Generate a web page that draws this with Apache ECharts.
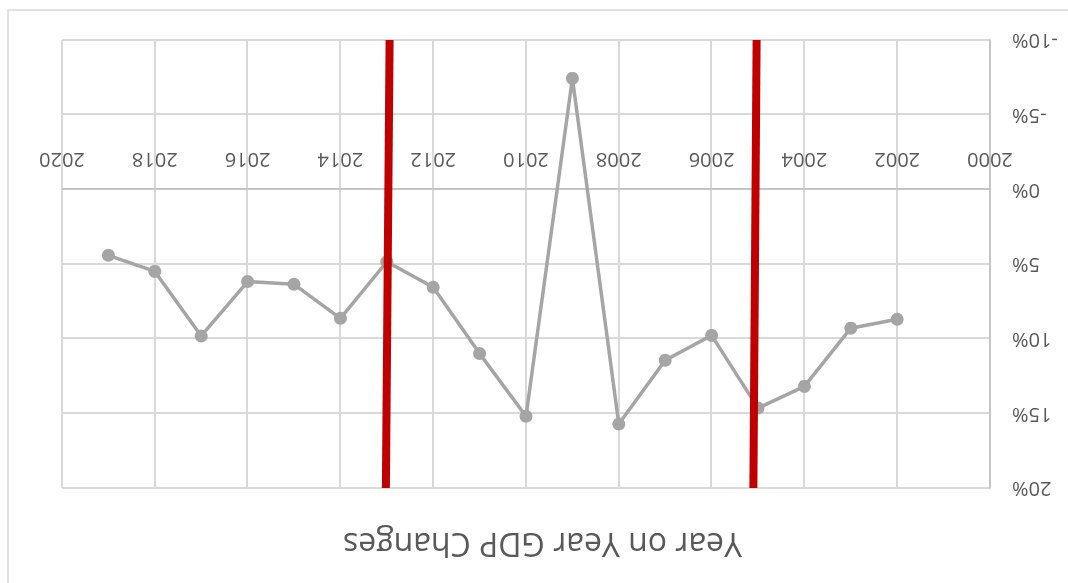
<!DOCTYPE html>
<html>
<head>
<meta charset="utf-8">
<script src="https://cdn.jsdelivr.net/npm/echarts@6/dist/echarts.min.js"></script>
<style>
html,body{margin:0;padding:0;background:#fff;overflow:hidden;}
#wrap{width:1068px;height:583px;transform:rotate(180deg);transform-origin:50% 50%;}
#chart{width:1068px;height:583px;}
</style>
</head>
<body>
<div id="wrap"><div id="chart"></div></div>
<script>
// Data read from the (upside-down) reference
const titleText = 'Year on Year GDP Changes';
const years = [2002, 2003, 2004, 2005, 2006, 2007, 2008, 2009, 2010, 2011, 2012, 2013, 2014, 2015, 2016, 2017, 2018, 2019];
const gdpChange = [8.7, 9.3, 13.2, 14.65, 9.78, 11.45, 15.72, -7.43, 15.2, 11.0, 6.56, 4.85, 8.64, 6.36, 6.18, 9.82, 5.5, 4.42];
const redLineA = [[2012.94, -10], [2013.02, 20]];
const redLineB = [[2005.03, -10], [2005.1, 20]];
const xTicks = { min: 2000, max: 2020, step: 2 };
const yTicks = { min: -10, max: 20, step: 5 };

const chart = echarts.init(document.getElementById('chart'), null, { renderer: 'canvas' });
const font = '"Open Sans", "Noto Sans", sans-serif';
const gdpData = years.map((y, i) => [y, gdpChange[i]]);

const gridTop = 95, gridBottom = 40, chartH = 583;
const plotH = chartH - gridTop - gridBottom;
// distance of the zero line from the bottom of the plot area
const zeroOffset = plotH * (0 - yTicks.min) / (yTicks.max - yTicks.min);

chart.setOption({
  animation: false,
  backgroundColor: '#ffffff',
  title: {
    text: titleText,
    left: 321,
    top: 20,
    textStyle: { fontFamily: font, fontSize: 32, fontWeight: 'normal', color: '#595959' }
  },
  graphic: [{
    type: 'rect',
    shape: { x: -10, y: -10, width: 1070, height: 583 },
    style: { fill: 'none', stroke: '#D9D9D9', lineWidth: 1.5 },
    silent: true, z: -1
  }],
  grid: { left: 78, right: 62, top: gridTop, bottom: gridBottom, containLabel: false },
  xAxis: {
    type: 'value',
    position: 'bottom',
    offset: -zeroOffset,
    min: xTicks.min, max: xTicks.max, interval: xTicks.step,
    axisLine: { onZero: false, lineStyle: { color: '#BFBFBF', width: 1.5 } },
    axisTick: { show: false },
    axisLabel: { fontFamily: font, fontSize: 20, color: '#595959', margin: 21, formatter: v => String(v) },
    splitLine: { show: true, lineStyle: { color: '#D9D9D9', width: 2 } }
  },
  yAxis: {
    type: 'value',
    min: yTicks.min, max: yTicks.max, interval: yTicks.step,
    axisLine: { show: true, onZero: false, lineStyle: { color: '#BFBFBF', width: 1.5 } },
    axisTick: { show: false },
    axisLabel: { fontFamily: font, fontSize: 20, color: '#595959', margin: 22, formatter: '{value}%' },
    splitLine: { show: true, lineStyle: { color: '#D9D9D9', width: 2 } }
  },
  series: [
    {
      type: 'line', data: gdpData, z: 3,
      symbol: 'circle', symbolSize: 13,
      itemStyle: { color: '#A5A5A5' },
      lineStyle: { color: '#A5A5A5', width: 3.5 }
    },
    {
      type: 'line', data: redLineA, z: 4, showSymbol: false, symbol: 'none',
      lineStyle: { color: '#C00000', width: 8, cap: 'butt' }
    },
    {
      type: 'line', data: redLineB, z: 4, showSymbol: false, symbol: 'none',
      lineStyle: { color: '#C00000', width: 8, cap: 'butt' }
    }
  ]
});
</script>
</body>
</html>
